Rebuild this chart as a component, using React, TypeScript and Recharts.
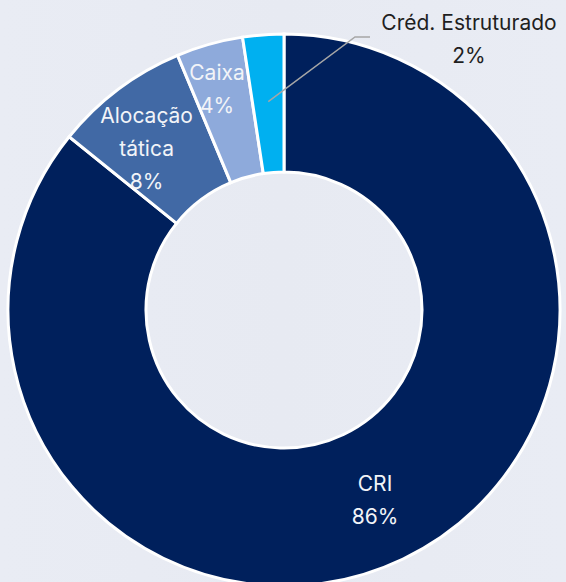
import { Cell, Pie, PieChart } from 'recharts';

const names = ['CRI', 'Alocação tática', 'Caixa', 'Créd. Estruturado'];
const shares = [85.8, 7.9, 3.9, 2.4];
const colors = ['#00205c', '#4169a5', '#8eaadb', '#00b0f0'];
// label lines, one array per slice (wrapped as in the reference)
const labelLines = [['CRI'], ['Alocação', 'tática'], ['Caixa'], ['Créd. Estruturado']];

const chartData = names.map((name, i) => ({ name, value: shares[i] }));

const RAD = Math.PI / 180;
const FONT = 'Inter, "Open Sans", sans-serif';
const FS = 21;

function renderLabel(props: any) {
  const { cx, cy, midAngle, index, value } = props;
  const lines = [...labelLines[index], `${Math.round(value)}%`];
  const lineH = 33;

  if (index === 3) {
    // outside label with a leader line
    const r0 = 209;
    const sx = cx + r0 * Math.cos(-midAngle * RAD);
    const sy = cy + r0 * Math.sin(-midAngle * RAD);
    const ex = cx + 71;
    const ey = cy - 273;
    const tx = cx + 185;
    const ty = cy - 288;
    return (
      <g key={`lbl-${index}`}>
        <polyline
          points={`${sx},${sy} ${ex},${ey} ${ex + 15},${ey}`}
          fill="none"
          stroke="#a6a6a6"
          strokeWidth={1.5}
        />
        {lines.map((t, i) => (
          <text
            key={i}
            x={tx}
            y={ty + i * lineH}
            fill="#1f1f1f"
            fontSize={FS}
            fontFamily={FONT}
            textAnchor="middle"
            dominantBaseline="central"
          >
            {t}
          </text>
        ))}
      </g>
    );
  }

  const radii = [211, 212, 231];
  const shifts = [0, 3.5, 1.2];
  const r = radii[index];
  const ang = -(midAngle + shifts[index]) * RAD;
  const x = cx + r * Math.cos(ang);
  const y = cy + r * Math.sin(ang);
  const top = y - ((lines.length - 1) * lineH) / 2;
  return (
    <g key={`lbl-${index}`}>
      {lines.map((t, i) => (
        <text
          key={i}
          x={x}
          y={top + i * lineH}
          fill="#f2f4f8"
          fontSize={FS}
          fontFamily={FONT}
          textAnchor="middle"
          dominantBaseline="central"
        >
          {t}
        </text>
      ))}
    </g>
  );
}

export default function App() {
  return (
    <div
      style={{
        position: 'absolute',
        left: 0,
        top: 0,
        width: 566,
        height: 582,
        overflow: 'hidden',
        background: 'linear-gradient(90deg, #e9ecf4 0%, #e7eaf2 50%, #e9ecf4 100%)',
      }}
    >
      <PieChart width={566} height={582} margin={{ top: 0, right: 0, bottom: 0, left: 0 }}>
        <Pie
          data={chartData}
          dataKey="value"
          nameKey="name"
          cx={284}
          cy={310}
          innerRadius={138}
          outerRadius={276}
          startAngle={90}
          endAngle={-270}
          stroke="#ffffff"
          strokeWidth={3}
          label={renderLabel}
          labelLine={false}
          isAnimationActive={false}
        >
          {chartData.map((d, i) => (
            <Cell key={d.name} fill={colors[i]} />
          ))}
        </Pie>
      </PieChart>
    </div>
  );
}
